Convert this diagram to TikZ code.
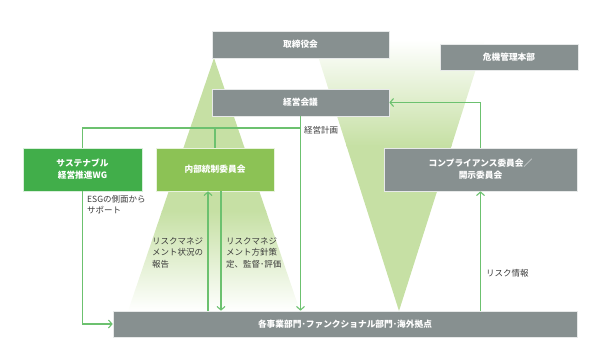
\documentclass[tikz,border=0pt]{standalone}
\usepackage{fontspec}
\newfontfamily\jp{Noto Sans CJK JP}
\usetikzlibrary{arrows.meta}
\definecolor{boxgray}{HTML}{879090}
\definecolor{icgreen}{HTML}{8CC255}
\definecolor{sustgreen}{HTML}{41AE4A}
\definecolor{trigreen}{HTML}{C6E0A4}
\definecolor{linegreen}{HTML}{6CC16F}
\definecolor{labelgray}{HTML}{3C3C3C}
\begin{document}
\begin{tikzpicture}[x=1pt,y=-1pt,
  box/.style={fill=boxgray,draw=white!80!boxgray,line width=0.6pt,text=white,align=center,inner sep=0pt,
    font={\jp\bfseries\fontsize{8.7}{12}\selectfont}},
  conn/.style={draw=linegreen,line width=1.1pt},
  arr/.style={conn,-{Straight Barb[length=3.5pt,width=8pt,line width=1.1pt]}},
  lab/.style={anchor=north west,align=left,inner sep=0pt,text=labelgray,
    font={\jp\fontsize{8.5}{11.5}\selectfont}}]
\useasboundingbox (0,0) rectangle (596,354);
% up triangle (from board)
\begin{scope}
  \clip (214,58) -- (128,311) -- (300,311) -- cycle;
  \fill[trigreen] (120,55) rectangle (305,212);
  \shade[top color=trigreen,bottom color=white] (120,211) rectangle (305,311);
\end{scope}
% inverted triangle (from crisis HQ)
\begin{scope}
  \clip (310,31) -- (488,31) -- (399,311) -- cycle;
  \shade[top color=white,bottom color=trigreen] (305,40) rectangle (495,146);
  \fill[white] (305,28) rectangle (495,40.5);
  \fill[trigreen] (305,145) rectangle (495,312);
\end{scope}
% boxes
\node[box,minimum width=177pt,minimum height=27pt] (board) at (300.5,44.5) {取締役会};
\node[box,minimum width=177pt,minimum height=27pt] (mgmt) at (300.5,102.5) {経営会議};
\node[box,minimum width=138pt,minimum height=26pt] (crisis) at (509,57) {危機管理本部};
\node[box,fill=sustgreen,draw=white!80!sustgreen,minimum width=119pt,minimum height=43pt] (sust) at (82.5,169.5) {サステナブル\\経営推進WG};
\node[box,fill=icgreen,draw=white!80!icgreen,minimum width=118pt,minimum height=43pt] (ic) at (215,169.5) {内部統制委員会};
\node[box,minimum width=193pt,minimum height=43pt] (comp) at (480.5,169.5) {コンプライアンス委員会／\\開示委員会};
\node[box,minimum width=464pt,minimum height=26pt] (biz) at (345,324) {各事業部門･ファンクショナル部門･海外拠点};
% connectors
\coordinate (j) at (mgmt.south |- 0,128);
\draw[arr] (mgmt.south) -- (mgmt.south |- biz.north);
\draw[conn] (j) -| (sust.north);
\draw[conn] (ic.north |- j) -- (ic.north);
\draw[arr] (sust.south) |- (biz.west);
\draw[arr] ([xshift=-7pt]ic.south |- biz.north) -- ([xshift=-7pt]ic.south);
\draw[arr] ([xshift=6pt]ic.south) -- ([xshift=6pt]ic.south |- biz.north);
\draw[arr] (comp.south |- biz.north) -- (comp.south);
\draw[arr] (comp.north) |- (mgmt.east);
% labels
\node[lab] (l1) at (304,126) {経営計画};
\node[lab] (l2) at (87,195) {ESGの側面から\\サポート};
\node[lab] (l3) at (152,237) {リスクマネジ\\メント状況の\\報告};
\node[lab] (l4) at (226,237) {リスクマネジ\\メント方針策\\定、監督･評価};
\node[lab] (l5) at (486,269) {リスク情報};
\end{tikzpicture}
\end{document}
